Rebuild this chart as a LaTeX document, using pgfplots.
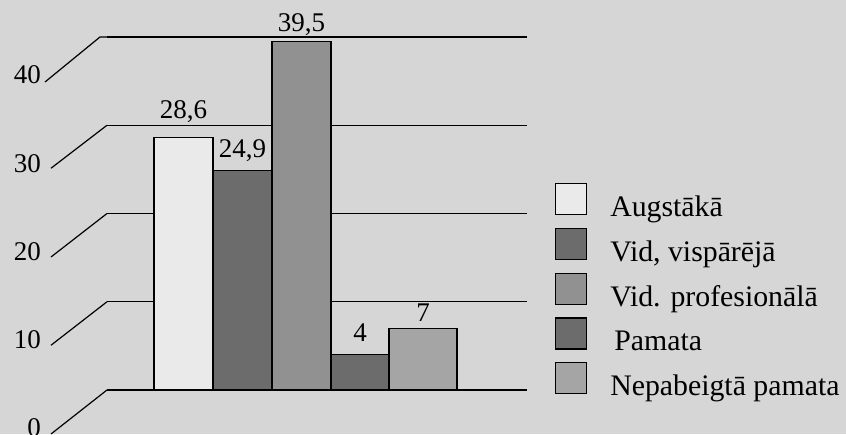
\documentclass[border=0pt]{standalone}
\usepackage{pgfplots}
\pgfplotsset{compat=1.18}
\usepackage{fontspec}
\setmainfont{Liberation Serif}
\definecolor{bgc}{RGB}{214,214,214}
\definecolor{c1}{RGB}{234,234,234}
\definecolor{c2}{RGB}{108,108,108}
\definecolor{c3}{RGB}{145,145,145}
\definecolor{c4}{RGB}{108,108,108}
\definecolor{c5}{RGB}{165,165,165}
\pgfplotsset{
  mybar/.style={ybar, bar shift=0pt, draw=black, line width=1.2pt,
    legend image code/.code={\draw[##1, line width=1.3pt] (0pt,-7.5pt) rectangle (31pt,23.5pt);}},
}
\begin{document}
\begin{tikzpicture}
\useasboundingbox (0,0) rectangle (846pt,434pt);
\fill[bgc] (0,0) rectangle (846pt,434pt);
\begin{axis}[
  at={(107pt,44pt)}, anchor=south west,
  scale only axis, width=420pt, height=353pt,
  xmin=0, xmax=420, ymin=0, ymax=40,
  clip=false,
  axis line style={draw=none},
  xtick=\empty, ytick={0,10,20,30,40},
  major tick length=0pt,
  ymajorgrids, grid style={black, line width=1.2pt},
  tick label style={font=\fontsize{27}{30}\selectfont},
  yticklabel style={anchor=east, inner sep=0pt, xshift=-66pt, yshift=-38pt},
  /pgf/number format/use comma,
  /pgf/number format/assume math mode=true,
  nodes near coords,
  nodes near coords style={font=\fontsize{27}{30}\selectfont, inner sep=0pt, text depth=0pt, anchor=south, black},
  legend style={at={(axis cs:448,23.45)}, anchor=north west, draw=none, fill=none,
    inner sep=0pt, outer sep=0pt, row sep=8.5pt, column sep=22pt,
    font=\fontsize{29.8}{32}\selectfont, nodes={inner sep=1pt}},
  legend cell align=left,
]
\draw[line width=1.2pt] (axis cs:0,0) -- ++(-56pt,-44pt);
\draw[line width=1.2pt] (axis cs:0,10) -- ++(-56pt,-43.5pt);
\draw[line width=1.2pt] (axis cs:0,20) -- ++(-56pt,-43.5pt);
\draw[line width=1.2pt] (axis cs:0,30) -- ++(-56pt,-43pt);
\draw[line width=1.2pt] (axis cs:0,40) -- ++(-7pt,0pt) -- ++(-55pt,-45pt);
\addplot[mybar, fill=c1, bar width=59, nodes near coords style={yshift=18.5pt}] coordinates {(76.5,28.6)};
\addlegendentry{Augstākā}
\addplot[mybar, fill=c2, bar width=59, nodes near coords style={yshift=12pt}] coordinates {(135.5,24.9)};
\addlegendentry{Vid, vispārējā}
\addplot[mybar, fill=c3, bar width=59, nodes near coords style={yshift=9pt}] coordinates {(194.5,39.5)};
\addlegendentry{Vid. profesionālā}
\addplot[mybar, fill=c4, bar width=58, nodes near coords style={yshift=13pt}] coordinates {(253,4)};
\addlegendentry{\hspace{4pt}Pamata}
\addplot[mybar, fill=c5, bar width=68, nodes near coords style={yshift=6pt}] coordinates {(316,7)};
\addlegendentry{Nepabeigtā pamata}
\end{axis}
\end{tikzpicture}
\end{document}
